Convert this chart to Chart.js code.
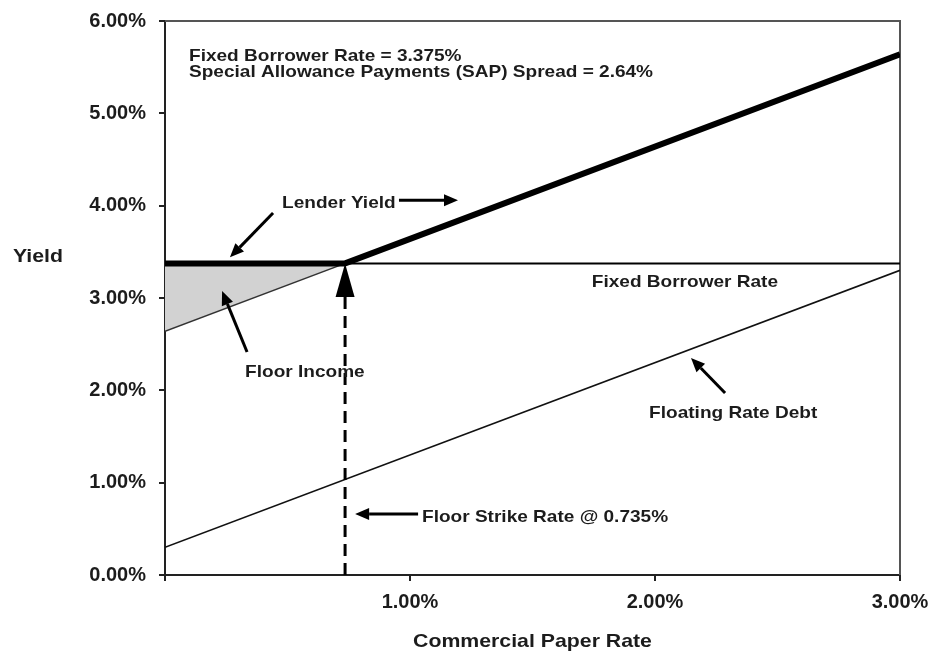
<!DOCTYPE html>
<html>
<head>
<meta charset="utf-8">
<script src="https://cdn.jsdelivr.net/npm/chart.js@4.4.0/dist/chart.umd.min.js"></script>
<style>
  html, body { margin: 0; padding: 0; background: #fff; }
</style>
</head>
<body>
<canvas id="chart" width="930" height="652"></canvas>
<script>
// all rates in percent
const cpRate = [0, 0.735, 3];
const fixedBorrowerRate = [3.375, 3.375, 3.375];
const lenderYield = [3.375, 3.375, 5.64];
const sapCpRate = [0, 0.735];
const sapYield = [2.64, 3.375];
const debtCpRate = [0, 3];
const floatingRateDebt = [0.3, 3.3];
const strikeCpRate = [0.735, 0.735];
const strikeYield = [0, 3.01];

const xTicks = [0, 1, 2, 3];
const xTickLabels = ['', '1.00%', '2.00%', '3.00%'];
const yTicks = [0, 1, 2, 3, 4, 5, 6];
const yTickLabels = ['0.00%', '1.00%', '2.00%', '3.00%', '4.00%', '5.00%', '6.00%'];

const FONT = "'Liberation Sans', Arial, Helvetica, sans-serif";
const INK = '#1c1c1c';
const STRETCH = 1.12; // the source text is a bit wide

function pts(xs, ys) { return xs.map((x, i) => ({ x: x, y: ys[i] })); }

// text + arrow notes, placed in data units
const notes = [
  { text: 'Fixed Borrower Rate = 3.375%', x: 0.098, y: 5.62, align: 'left' },
  { text: 'Special Allowance Payments (SAP) Spread = 2.64%', x: 0.098, y: 5.445, align: 'left' },
  { text: 'Lender Yield', x: 0.478, y: 4.03, align: 'left' },
  { text: 'Fixed Borrower Rate', x: 2.122, y: 3.17, align: 'center' },
  { text: 'Floor Income', x: 0.327, y: 2.20, align: 'left' },
  { text: 'Floating Rate Debt', x: 1.976, y: 1.755, align: 'left' },
  { text: 'Floor Strike Rate @ 0.735%', x: 1.049, y: 0.628, align: 'left' }
];
const arrows = [
  { from: [0.955, 4.06], to: [1.196, 4.06] },
  { from: [0.441, 3.92], to: [0.265, 3.44] },
  { from: [0.335, 2.415], to: [0.233, 3.076] },
  { from: [2.286, 1.971], to: [2.147, 2.350] },
  { from: [1.033, 0.661], to: [0.776, 0.661] }
];

function drawArrow(ctx, x1, y1, x2, y2) {
  const ang = Math.atan2(y2 - y1, x2 - x1);
  const len = 14, half = 6;
  const bx = x2 - Math.cos(ang) * len, by = y2 - Math.sin(ang) * len;
  ctx.beginPath();
  ctx.moveTo(x1, y1);
  ctx.lineTo(bx, by);
  ctx.stroke();
  ctx.beginPath();
  ctx.moveTo(x2, y2);
  ctx.lineTo(bx + Math.sin(ang) * half, by - Math.cos(ang) * half);
  ctx.lineTo(bx - Math.sin(ang) * half, by + Math.cos(ang) * half);
  ctx.closePath();
  ctx.fill();
}

function wideText(ctx, txt, x, y, align) {
  ctx.save();
  ctx.translate(x, y);
  ctx.scale(STRETCH, 1);
  ctx.textAlign = align;
  ctx.textBaseline = 'middle';
  ctx.fillText(txt, 0, 0);
  ctx.restore();
}

const notesPlugin = {
  id: 'notes',
  beforeDatasetsDraw(chart) {
    const { ctx, chartArea: a } = chart;
    // top and right frame
    ctx.save();
    ctx.strokeStyle = '#555';
    ctx.lineWidth = 2;
    ctx.beginPath();
    ctx.moveTo(a.left, a.top);
    ctx.lineTo(a.right, a.top);
    ctx.lineTo(a.right, a.bottom);
    ctx.stroke();
    ctx.restore();
  },
  afterDatasetsDraw(chart) {
    const { ctx, chartArea: a } = chart;
    const sx = chart.scales.x, sy = chart.scales.y;
    ctx.save();
    ctx.fillStyle = '#000';
    ctx.strokeStyle = '#000';
    ctx.lineWidth = 3;
    // strike arrowhead
    const tx = sx.getPixelForValue(strikeCpRate[1]);
    const tip = sy.getPixelForValue(fixedBorrowerRate[0]);
    const base = sy.getPixelForValue(strikeYield[1]);
    ctx.beginPath();
    ctx.moveTo(tx, tip);
    ctx.lineTo(tx - 9.5, base);
    ctx.lineTo(tx + 9.5, base);
    ctx.closePath();
    ctx.fill();

    arrows.forEach(ar => {
      drawArrow(ctx,
        sx.getPixelForValue(ar.from[0]), sy.getPixelForValue(ar.from[1]),
        sx.getPixelForValue(ar.to[0]), sy.getPixelForValue(ar.to[1]));
    });

    ctx.fillStyle = INK;
    ctx.font = 'bold 17px ' + FONT;
    notes.forEach(n => {
      wideText(ctx, n.text, sx.getPixelForValue(n.x), sy.getPixelForValue(n.y), n.align);
    });

    // axis titles
    ctx.font = 'bold 19px ' + FONT;
    wideText(ctx, 'Yield', 38, 257, 'center');
    wideText(ctx, 'Commercial Paper Rate', (a.left + a.right) / 2, 642, 'center');
    ctx.restore();
  }
};

const thin = { pointRadius: 0, tension: 0, fill: false };

new Chart(document.getElementById('chart'), {
  type: 'line',
  data: {
    datasets: [
      Object.assign({ label: 'Lender Yield', data: pts(cpRate, lenderYield),
        borderColor: '#000', borderWidth: 6, borderCapStyle: 'butt', borderJoinStyle: 'round' }, thin),
      Object.assign({ label: 'Fixed Borrower Rate', data: pts(cpRate, fixedBorrowerRate),
        borderColor: '#000', borderWidth: 2 }, thin),
      Object.assign({ label: 'Floor Strike', data: pts(strikeCpRate, strikeYield),
        borderColor: '#000', borderWidth: 3, borderDash: [12, 7] }, thin),
      Object.assign({ label: 'Floating Rate Debt', data: pts(debtCpRate, floatingRateDebt),
        borderColor: '#111', borderWidth: 1.6 }, thin),
      Object.assign({}, thin, { label: 'CP + SAP', data: pts(sapCpRate, sapYield),
        borderColor: '#333', borderWidth: 1.6,
        fill: { value: fixedBorrowerRate[0] }, backgroundColor: '#d2d2d2' })
    ]
  },
  options: {
    responsive: false,
    animation: false,
    layout: { padding: { left: 0, right: 30, top: 21, bottom: 0 } },
    plugins: { legend: { display: false }, tooltip: { enabled: false } },
    scales: {
      x: {
        type: 'linear', min: 0, max: 3,
        afterFit: s => { s.height = 77; s.paddingLeft = 0; s.paddingRight = 0; },
        afterBuildTicks: s => { s.ticks = xTicks.map(v => ({ value: v })); },
        grid: { drawOnChartArea: false, drawTicks: true, tickLength: 6, color: '#222', lineWidth: 2 },
        border: { color: '#222', width: 2 },
        ticks: { color: INK, padding: 9, maxRotation: 0, autoSkip: false,
          font: { family: FONT, size: 20, weight: 'bold' },
          callback: (v, i) => xTickLabels[i] }
      },
      y: {
        type: 'linear', min: 0, max: 6,
        afterFit: s => { s.width = 165; s.paddingTop = 0; s.paddingBottom = 0; },
        afterBuildTicks: s => { s.ticks = yTicks.map(v => ({ value: v })); },
        grid: { drawOnChartArea: false, drawTicks: true, tickLength: 6, color: '#222', lineWidth: 2 },
        border: { color: '#222', width: 2 },
        ticks: { color: INK, padding: 13,
          font: { family: FONT, size: 20, weight: 'bold' },
          callback: (v, i) => yTickLabels[i] }
      }
    }
  },
  plugins: [notesPlugin]
});
</script>
</body>
</html>
